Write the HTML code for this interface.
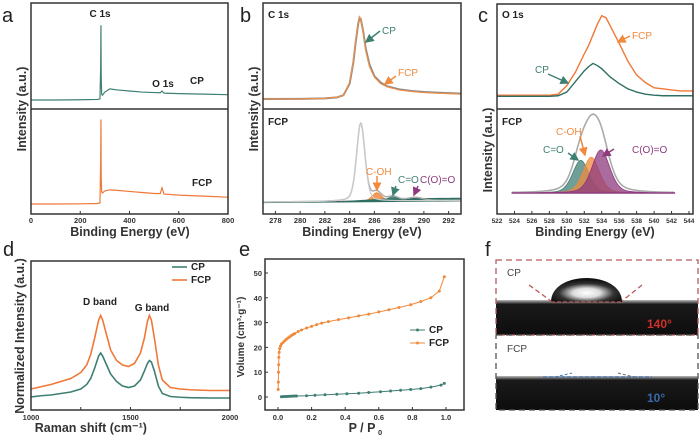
<!DOCTYPE html>
<html><head><meta charset="utf-8"><style>
html,body{margin:0;padding:0;background:#fff;width:700px;height:438px;overflow:hidden}
svg{display:block;font-family:"Liberation Sans",Arial,sans-serif}
.tk{font-size:7.5px;fill:#333;font-weight:bold}
.at{font-size:12.5px;fill:#333;font-weight:bold}
.pl{font-size:20px;fill:#222}
.lb{font-size:10px;font-weight:bold;fill:#222}
</style></head><body>
<svg id="fig" width="700" height="438" viewBox="0 0 700 438">
<defs>
<radialGradient id="dropg" cx="0.5" cy="0.62" r="0.55">
<stop offset="0" stop-color="#fff"/><stop offset="0.35" stop-color="#ddd"/><stop offset="0.7" stop-color="#333"/><stop offset="1" stop-color="#111"/>
</radialGradient>
<linearGradient id="surf" x1="0" y1="0" x2="0" y2="1"><stop offset="0" stop-color="#bbb"/><stop offset="0.12" stop-color="#1a1a1a"/><stop offset="1" stop-color="#0d0d0d"/></linearGradient>
<marker id="arT" markerWidth="6" markerHeight="6" refX="5" refY="3" orient="auto"><path d="M0,0L6,3L0,6z" fill="#3f7f73"/></marker>
<marker id="arO" markerWidth="6" markerHeight="6" refX="5" refY="3" orient="auto"><path d="M0,0L6,3L0,6z" fill="#f08a3c"/></marker>
<marker id="arP" markerWidth="6" markerHeight="6" refX="5" refY="3" orient="auto"><path d="M0,0L6,3L0,6z" fill="#8e3a7f"/></marker>
</defs>
<g id="root"></g>
</svg>
<script>
// ---------- data ----------
// panel a survey
const aBE=[0,100,200,270,280,283,284,285,287,290,300,320,350,400,450,500,525,532,540,600,700,800];
const aCP=[8.5,8.5,8.7,9,9.5,40,79,30,14,13,16,19,18,17,16,15.5,15.3,17,15,14.5,14,13.5];
const aFCP=[9.5,9.5,9.7,10,10.5,50,90,35,21,20,22,23,22.5,21.5,20.5,19.5,19.5,25,19,18,17,16];
const aTicks=[0,200,400,600,800];
// panel b C1s
const bBE=[277,280,282,283,283.5,284,284.3,284.5,284.7,284.8,284.9,285.1,285.3,285.6,286,286.5,287,288,289,290,291,292,293];
const bFCP=[9.4,9.5,10,11,13,25,45,65,82,87,85,72,55,40,30,24,21,18,16.5,15.5,15,14.5,14];
const bCP=[9.4,9.5,10,11,13,24,44,64,81,86,85,73,57,42,31,25,21.5,18.5,17,16,15.5,15,14.5];
const bCenters=[284.9,286.2,287.5,289.3];
const bAmps=[74,8,4,3];
const bFwhm=[0.8,0.9,1.0,1.5];
const bTicks=[278,280,282,284,286,288,290,292];
// panel c O1s
const cBE=[522,524,526,528,529,530,531,532,532.5,533,533.5,534,534.5,535,536,537,538,539,540,541,542,543,544.5];
const cFCP=[13,13,13,13,14,22,35,52,60,70,80,88,86,78,62,45,32,25,20,19,18,17,17];
const cCP=[12,12,12,12,12.5,16,26,36,40,43,41,38,34,30,24,19,16,14,13,12.5,12.5,12.5,12.5];
const cCenters=[531.6,532.8,533.9];
const cAmps=[31,34,41];
const cFwhm=[2.2,2.2,2.4];
const cTicks=[522,524,526,528,530,532,534,536,538,540,542,544];
// panel d Raman
const dW=[1000,1050,1100,1150,1200,1250,1280,1300,1320,1340,1350,1360,1380,1400,1430,1460,1490,1520,1550,1570,1585,1595,1605,1620,1640,1660,1700,1750,1800,1900,2000];
const dFCP=[0.14,0.155,0.17,0.19,0.21,0.25,0.30,0.37,0.48,0.60,0.63,0.60,0.50,0.40,0.33,0.30,0.29,0.31,0.38,0.48,0.59,0.63,0.60,0.48,0.30,0.20,0.15,0.14,0.135,0.13,0.13];
const dCP=[0.087,0.095,0.10,0.11,0.12,0.14,0.17,0.21,0.28,0.36,0.38,0.36,0.30,0.24,0.19,0.16,0.15,0.16,0.20,0.26,0.31,0.33,0.32,0.26,0.16,0.11,0.09,0.085,0.082,0.08,0.08];
const dTicks=[1000,1500,2000];
// panel e isotherm
const eFCPp=[0.001,0.002,0.003,0.004,0.005,0.007,0.01,0.015,0.02,0.03,0.04,0.05,0.06,0.07,0.08,0.09,0.1,0.12,0.14,0.17,0.2,0.23,0.26,0.3,0.36,0.42,0.48,0.54,0.6,0.66,0.72,0.79,0.85,0.91,0.96,0.99];
const eFCPv=[3,6,10,13,16,18,19.5,20.5,21.3,22,22.7,23.3,23.8,24.3,24.8,25.2,25.6,26.4,27,27.8,28.5,29.2,29.8,30.4,31.2,31.9,32.7,33.4,34.3,35.2,36.1,37.2,38.5,40,42.7,48.5];
const eCPp=[0.02,0.03,0.04,0.05,0.06,0.07,0.08,0.09,0.1,0.11,0.17,0.22,0.28,0.35,0.41,0.48,0.54,0.61,0.67,0.73,0.79,0.85,0.91,0.97,0.99];
const eCPv=[0.1,0.15,0.2,0.2,0.25,0.3,0.3,0.35,0.4,0.4,0.5,0.7,0.9,1.1,1.3,1.5,1.8,2.1,2.4,2.7,3.0,3.4,4.0,4.8,5.5];
const eYTicks=[0,10,20,30,40,50];
const eXTicks=[0,0.2,0.4,0.6,0.8,1.0];

// ---------- helpers ----------
const NS="http://www.w3.org/2000/svg";
const root=document.getElementById('root');
function mk(tag,attrs,parent){const e=document.createElementNS(NS,tag);for(const k in attrs)e.setAttribute(k,attrs[k]);(parent||root).appendChild(e);return e;}
function txt(x,y,s,cls,anchor,fill,rot){const t=mk('text',{x:x,y:y,'class':cls,'text-anchor':anchor||'start'});if(fill)t.style.fill=fill;if(rot)t.setAttribute('transform','rotate(-90 '+x+' '+y+')');t.textContent=s;return t;}
function pathD(xs,ys,fx,fy){return xs.map((v,i)=>(i?'L':'M')+fx(v).toFixed(2)+','+fy(ys[i]).toFixed(2)).join('');}
function pv(x,c,a,w){const g=Math.exp(-4*Math.LN2*Math.pow((x-c)/w,2));const l=1/(1+4*Math.pow((x-c)/w,2));return a*(0.7*g+0.3*l);}
function frame(x1,y1,x2,y2,name){const r=mk('rect',{x:x1,y:y1,width:x2-x1,height:y2-y1,fill:'none',stroke:'#333','stroke-width':1.5});}

// ---------- panel a ----------
const xa=b=>31+b/800*197, yaT=v=>109-v*1.06, yaB=v=>214-v*1.05;
let p=mk('path',{d:pathD(aBE,aCP,xa,yaT),fill:'none',stroke:'#3f7f73','stroke-width':1.2});

p=mk('path',{d:pathD(aBE,aFCP,xa,yaB),fill:'none',stroke:'#f07838','stroke-width':1.2});

frame(31,3,228,214,'panel-a-frame');mk('line',{x1:31,y1:109,x2:228,y2:109,stroke:'#333','stroke-width':1.5});
aTicks.forEach(t=>{mk('line',{x1:xa(t),y1:214,x2:xa(t),y2:211,stroke:'#333'});const l=txt(xa(t),223,String(t),'tk','middle');});
txt(130,236,'Binding Energy (eV)','at','middle');
txt(26,109,'Intensity (a.u.)','at','middle','#333',true);
txt(2,22,'a','pl');
txt(100,17,'C 1s','lb','middle');txt(163,87,'O 1s','lb','middle');txt(190,84,'CP','lb');txt(192,186,'FCP','lb');

// ---------- panel b ----------
const xb=b=>263+(b-277)/16*198, ybT=v=>109-v*1.06, ybB=v=>214-v*1.05;
p=mk('path',{d:pathD(bBE,bCP,xb,ybT),fill:'none',stroke:'#888','stroke-width':2});

p=mk('path',{d:pathD(bBE,bFCP,xb,ybT),fill:'none',stroke:'#f0904a','stroke-width':1.2});

const bXs=[];for(let x=277;x<=293.001;x+=0.05)bXs.push(x);
const bBase=x=>11.4+(x-277)*0.1;
const bCols=['#bbbbbb','#f08a3c','#3f7f73','#8e3a7f'];
bCenters.forEach((c,i)=>{if(i===0)return;const top=bXs.map(x=>bBase(x)+pv(x,c,bAmps[i],bFwhm[i]));
 let d=pathD(bXs,top,xb,ybB)+'L'+xb(293)+','+ybB(bBase(293))+'L'+xb(277)+','+ybB(bBase(277))+'Z';
 const s=mk('path',{d:d,fill:bCols[i],'fill-opacity':0.85,stroke:bCols[i],'stroke-width':0.8});
 });
const bTeal=bXs.map(x=>bBase(x)+ (x>283? Math.min(2.5,(x-283)*0.6):0));
mk('path',{d:pathD(bXs,bTeal,xb,ybB)+'L'+xb(293)+','+ybB(bBase(293)-1)+'L'+xb(277)+','+ybB(bBase(277)-1)+'Z',fill:'#2f6f63'});
const bEnv=bXs.map(x=>bBase(x)+bCenters.reduce((s,c,i)=>s+pv(x,c,bAmps[i],bFwhm[i]),0));
p=mk('path',{d:pathD(bXs,bEnv,xb,ybB),fill:'none',stroke:'#aaa','stroke-width':1.4});

const bMain=bXs.map(x=>bBase(x)+pv(x,bCenters[0],bAmps[0],bFwhm[0]));
mk('path',{d:pathD(bXs,bMain,xb,ybB),fill:'none',stroke:'#ccc','stroke-width':1.2});
frame(263,3,461,214,'panel-b-frame');mk('line',{x1:263,y1:109,x2:461,y2:109,stroke:'#333','stroke-width':1.5});
bTicks.forEach(t=>{mk('line',{x1:xb(t),y1:214,x2:xb(t),y2:211,stroke:'#333'});const l=txt(xb(t),223,String(t),'tk','middle');});
txt(362,236,'Binding Energy (eV)','at','middle');
txt(258,109,'Intensity (a.u.)','at','middle','#333',true);
txt(240,22,'b','pl');
txt(268,18,'C 1s','lb');txt(268,125,'FCP','lb');
mk('line',{x1:380,y1:31,x2:366,y2:42,stroke:'#3f7f73','stroke-width':1.5,'marker-end':'url(#arT)'});txt(382,34,'CP','lb','start','#3f7f73').style.fontWeight='normal';
mk('line',{x1:396,y1:76,x2:385,y2:84,stroke:'#f08a3c','stroke-width':1.5,'marker-end':'url(#arO)'});txt(398,76,'FCP','lb','start','#f08a3c').style.fontWeight='normal';
mk('line',{x1:377,y1:176,x2:377,y2:190,stroke:'#f08a3c','stroke-width':1.5,'marker-end':'url(#arO)'});txt(366,175,'C-OH','lb','start','#f08a3c').style.fontWeight='normal';
mk('line',{x1:396,y1:186,x2:393,y2:195,stroke:'#3f7f73','stroke-width':1.5,'marker-end':'url(#arT)'});txt(398,183,'C=O','lb','start','#3f7f73').style.fontWeight='normal';
mk('line',{x1:418,y1:186,x2:414,y2:195,stroke:'#8e3a7f','stroke-width':1.5,'marker-end':'url(#arP)'});txt(420,183,'C(O)=O','lb','start','#8e3a7f').style.fontWeight='normal';

// ---------- panel c ----------
const xc=b=>497+(b-522)/22*192, ycT=v=>109-v*1.06, ycB=v=>214-v*1.05;
p=mk('path',{d:pathD(cBE,cFCP,xc,ycT),fill:'none',stroke:'#f07838','stroke-width':1.4});

p=mk('path',{d:pathD(cBE,cCP,xc,ycT),fill:'none',stroke:'#2f6f63','stroke-width':1.4});

const cXs=[];for(let x=523.7;x<=542.4;x+=0.1)cXs.push(x);
const cBase=()=>20;
const cCols=['#3f7f73','#f08a3c','#8e3a7f'];
cCenters.forEach((c,i)=>{const top=cXs.map(x=>cBase()+pv(x,c,cAmps[i],cFwhm[i]));
 let d=pathD(cXs,top,xc,ycB)+'L'+xc(542.4)+','+ycB(20)+'L'+xc(523.7)+','+ycB(20)+'Z';
 const s=mk('path',{d:d,fill:cCols[i],'fill-opacity':0.75,stroke:cCols[i],'stroke-width':0.8});
 });
const cEnv=cXs.map(x=>cBase()+cCenters.reduce((s,c,i)=>s+pv(x,c,cAmps[i],cFwhm[i]),0)+pv(x,533.2,4,6));
p=mk('path',{d:pathD(cXs,cEnv,xc,ycB),fill:'none',stroke:'#aaa','stroke-width':1.6});

mk('line',{x1:xc(523.7),y1:ycB(20),x2:xc(542.4),y2:ycB(20),stroke:'#8e3a7f','stroke-width':1.5});
frame(497,4,693,214,'panel-c-frame');mk('line',{x1:497,y1:109,x2:693,y2:109,stroke:'#333','stroke-width':1.5});
cTicks.forEach(t=>{mk('line',{x1:xc(t),y1:214,x2:xc(t),y2:211,stroke:'#333'});const l=txt(xc(t),223,String(t),'tk','middle');l.style.fontSize='6.5px';});
txt(595,236,'Binding Energy (eV)','at','middle');
txt(492,150,'Intensity (a.u.)','at','middle','#333',true);
txt(478,22,'c','pl');
txt(502,18,'O 1s','lb');txt(502,125,'FCP','lb');
mk('line',{x1:630,y1:36,x2:618,y2:42,stroke:'#f08a3c','stroke-width':1.5,'marker-end':'url(#arO)'});txt(632,39,'FCP','lb','start','#f08a3c').style.fontWeight='normal';
mk('line',{x1:548,y1:74,x2:568,y2:83,stroke:'#3f7f73','stroke-width':1.5,'marker-end':'url(#arT)'});txt(535,73,'CP','lb','start','#3f7f73').style.fontWeight='normal';
mk('line',{x1:580,y1:136,x2:585,y2:155,stroke:'#f08a3c','stroke-width':1.5,'marker-end':'url(#arO)'});txt(556,135,'C-OH','lb','start','#f08a3c').style.fontWeight='normal';
mk('line',{x1:568,y1:153,x2:578,y2:160,stroke:'#3f7f73','stroke-width':1.5,'marker-end':'url(#arT)'});txt(543,153,'C=O','lb','start','#3f7f73').style.fontWeight='normal';
mk('line',{x1:614,y1:149,x2:603,y2:156,stroke:'#8e3a7f','stroke-width':1.5,'marker-end':'url(#arP)'});txt(632,153,'C(O)=O','lb','start','#8e3a7f').style.fontWeight='normal';

// ---------- panel d ----------
const xd=w=>31+(w-1000)/1000*199, yd=v=>410-v*150;
p=mk('path',{d:pathD(dW,dFCP,xd,yd),fill:'none',stroke:'#f07838','stroke-width':1.6});

p=mk('path',{d:pathD(dW,dCP,xd,yd),fill:'none',stroke:'#3f7f73','stroke-width':1.6});

frame(31,261,230,410,'panel-d-frame');
[1000,1250,1500,1750,2000].forEach(t=>mk('line',{x1:xd(t),y1:410,x2:xd(t),y2:407,stroke:'#333'}));
dTicks.forEach(t=>{const l=txt(xd(t),420,String(t),'tk','middle');});
txt(132,432,'Raman shift (cm','at','end');txt(132,432,'⁻¹)','at','start');
txt(24,336,'Normalized Intensity (a.u.)','at','middle','#333',true);
txt(3,256,'d','pl');
txt(100,305,'D band','lb','middle');txt(152,311,'G band','lb','middle');
let lg=mk('line',{x1:172,y1:267,x2:187,y2:267,stroke:'#3f7f73','stroke-width':1.6});
lg=mk('line',{x1:172,y1:280,x2:187,y2:280,stroke:'#f07838','stroke-width':1.6});
txt(191,270,'CP','lb');txt(191,283,'FCP','lb');

// ---------- panel e ----------
const xe=v=>278+v*168, ye=v=>397-v*2.48;
p=mk('path',{d:pathD(eFCPp,eFCPv,xe,ye),fill:'none',stroke:'#f08a3c','stroke-width':1});

eFCPp.forEach((q,i)=>{const c=mk('circle',{cx:xe(q),cy:ye(eFCPv[i]),r:1.5,fill:'#f08a3c'});});
p=mk('path',{d:pathD(eCPp,eCPv,xe,ye),fill:'none',stroke:'#3f7f73','stroke-width':1});

eCPp.forEach((q,i)=>{const c=mk('circle',{cx:xe(q),cy:ye(eCPv[i]),r:1.5,fill:'#3f7f73'});});
frame(265,259,464,410,'panel-e-frame');
eYTicks.forEach(t=>{mk('line',{x1:265,y1:ye(t),x2:268,y2:ye(t),stroke:'#333'});const l=txt(262,ye(t)+3,String(t),'tk','end');});
eXTicks.forEach(t=>{mk('line',{x1:xe(t),y1:410,x2:xe(t),y2:407,stroke:'#333'});const l=txt(xe(t),420,t.toFixed(1),'tk','middle');});
txt(362,432,'P / P','at','middle');txt(378,435,'0','tk');
const yl=txt(244,337,'Volume (cm³·g⁻¹)','at','middle','#333',true);yl.style.fontSize='10px';
txt(239,256,'e','pl');
lg=mk('line',{x1:410,y1:330,x2:425,y2:330,stroke:'#3f7f73'});mk('circle',{cx:417.5,cy:330,r:1.5,fill:'#3f7f73'});
lg=mk('line',{x1:410,y1:343,x2:425,y2:343,stroke:'#f08a3c'});mk('circle',{cx:417.5,cy:343,r:1.5,fill:'#f08a3c'});
txt(429,333,'CP','lb');txt(429,346,'FCP','lb');

// ---------- panel f (photos) ----------
txt(485,256,'f','pl');
const g=mk('g',{});
mk('rect',{x:496,y:300,width:202,height:35,fill:'url(#surf)'},g);
mk('path',{d:'M551,302 C551,270 622,270 622,302 Z',fill:'url(#dropg)'},g);
mk('rect',{x:496,y:260,width:202,height:75,fill:'none',stroke:'#b85a5a','stroke-width':1.3,'stroke-dasharray':'6,4'},g);
mk('line',{x1:529,y1:285,x2:551,y2:301,stroke:'#b85a5a','stroke-width':1.3,'stroke-dasharray':'5,3'},g);
mk('line',{x1:642,y1:285,x2:622,y2:301,stroke:'#b85a5a','stroke-width':1.3,'stroke-dasharray':'5,3'},g);
mk('line',{x1:551,y1:302,x2:622,y2:302,stroke:'#b85a5a','stroke-width':1.3,'stroke-dasharray':'4,2'},g);
mk('rect',{x:496,y:376,width:202,height:34,fill:'url(#surf)'},g);
mk('rect',{x:496,y:335,width:202,height:75,fill:'none',stroke:'#555','stroke-width':1.3,'stroke-dasharray':'6,4'},g);
mk('line',{x1:543,y1:377,x2:652,y2:377,stroke:'#4a78b8','stroke-width':1.3,'stroke-dasharray':'4,2'},g);
mk('line',{x1:555,y1:377,x2:572,y2:373,stroke:'#4a78b8','stroke-width':1,'stroke-dasharray':'3,2'},g);
mk('line',{x1:618,y1:373,x2:634,y2:377,stroke:'#666','stroke-width':1,'stroke-dasharray':'3,2'},g);
txt(507,276,'CP','lb','start','#444').style.fontWeight='normal';
txt(647,328,'140°','lb','start','#d0302a').style.fontSize='12px';
txt(507,352,'FCP','lb','start','#444').style.fontWeight='normal';
txt(647,402,'10°','lb','start','#3a6aa8').style.fontSize='12px';
</script>
</body></html>
